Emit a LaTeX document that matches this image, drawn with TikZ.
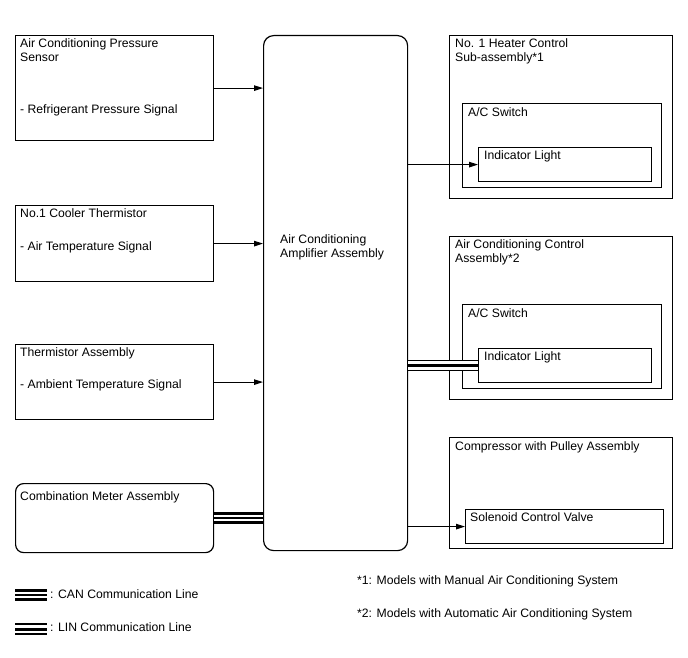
\documentclass[tikz,border=0pt]{standalone}
\usepackage{fontspec}
\setmainfont{Liberation Sans}
\usetikzlibrary{arrows.meta}
\begin{document}
\begin{tikzpicture}[x=1pt,y=-1pt,
  box/.style={draw, line width=1.2pt, anchor=north west, inner sep=0pt},
  lbl/.style={anchor=mid west, inner sep=0pt, yshift=-1.2pt, font=\fontsize{12.2}{14}\selectfont},
  arr/.style={line width=1.1pt, -{Triangle[length=9pt,width=5.5pt]}},
  canline/.style={draw=black, line width=11.5pt,
    postaction={draw=white, line width=6.5pt},
    postaction={draw=black, line width=1.3pt}},
  linline/.style={draw=black, line width=11.4pt,
    postaction={draw=white, line width=8.8pt},
    postaction={draw=black, line width=3pt}}]
\useasboundingbox (0,0) rectangle (688,658);

% boxes
\node[box, minimum width=198pt, minimum height=105pt] (pres) at (15,35) {};
\node[box, minimum width=198pt, minimum height=76pt] (cool) at (15,205) {};
\node[box, minimum width=198pt, minimum height=75pt] (ther) at (15,344) {};
\node[box, minimum width=198pt, minimum height=69pt, rounded corners=8pt] (comb) at (15,483) {};
\node[box, minimum width=144pt, minimum height=515pt, rounded corners=10pt] (amp) at (263,35) {};
\node[box, minimum width=223pt, minimum height=163pt] (heat) at (449,35) {};
\node[box, minimum width=199pt, minimum height=84pt] (swA) at (462,103) {};
\node[box, minimum width=173pt, minimum height=34pt] (indA) at (478,147) {};
\node[box, minimum width=223pt, minimum height=163pt] (ctrl) at (449,236) {};
\node[box, minimum width=199pt, minimum height=84pt] (swB) at (462,304) {};
\node[box, minimum width=173pt, minimum height=34pt] (indB) at (478,348) {};
\node[box, minimum width=223pt, minimum height=111pt] (comp) at (449,437) {};
\node[box, minimum width=198pt, minimum height=34pt] (sol) at (465,509) {};

% texts
\node[lbl] (t1) at (20,44) {Air Conditioning Pressure};
\node[lbl] (t2) at (20,58) {Sensor};
\node[lbl] (t3) at (20,110) {- Refrigerant Pressure Signal};
\node[lbl] (t4) at (20,214) {No.1 Cooler Thermistor};
\node[lbl] (t5) at (20,247) {- Air Temperature Signal};
\node[lbl] (t6) at (20,353) {Thermistor Assembly};
\node[lbl] (t7) at (20,385) {- Ambient Temperature Signal};
\node[lbl] (t8) at (20,497) {Combination Meter Assembly};
\node[lbl] (t9) at (280,240) {Air Conditioning};
\node[lbl] (t10) at (280,254) {Amplifier Assembly};
\node[lbl] (t11) at (455,44) {No. 1 Heater Control};
\node[lbl] (t12) at (455,58) {Sub-assembly*1};
\node[lbl] (t13) at (468,113) {A/C Switch};
\node[lbl] (t14) at (484,156) {Indicator Light};
\node[lbl] (t15) at (455,245) {Air Conditioning Control};
\node[lbl] (t16) at (455,259) {Assembly*2};
\node[lbl] (t17) at (468,314) {A/C Switch};
\node[lbl] (t18) at (484,357) {Indicator Light};
\node[lbl] (t19) at (455,447) {Compressor with Pulley Assembly};
\node[lbl] (t20) at (470,518) {Solenoid Control Valve};

% connectors
\draw[arr] (pres.east) -- (pres.east -| amp.west);
\draw[arr] (cool.east) -- (cool.east -| amp.west);
\draw[arr] (ther.east) -- (ther.east -| amp.west);
\draw[canline] (comb.east) -- (comb.east -| amp.west);
\draw[arr] (amp.east |- indA.west) -- (indA.west);
\draw[linline] (amp.east |- indB.west) -- (indB.west);
\draw[arr] (amp.east |- sol.west) -- (sol.west);

% legend
\coordinate (canA) at (15,595);
\coordinate (canB) at (47,595);
\draw[canline] (canA) -- (canB);
\node[lbl] (lg1) at (50,595) {: CAN Communication Line};
\coordinate (linA) at (15,629);
\coordinate (linB) at (47,629);
\draw[linline] (linA) -- (linB);
\node[lbl] (lg2) at (50,628) {: LIN Communication Line};
\node[lbl] (fn1) at (357,581) {*1: Models with Manual Air Conditioning System};
\node[lbl] (fn2) at (357,614) {*2: Models with Automatic Air Conditioning System};
\end{tikzpicture}
\end{document}
